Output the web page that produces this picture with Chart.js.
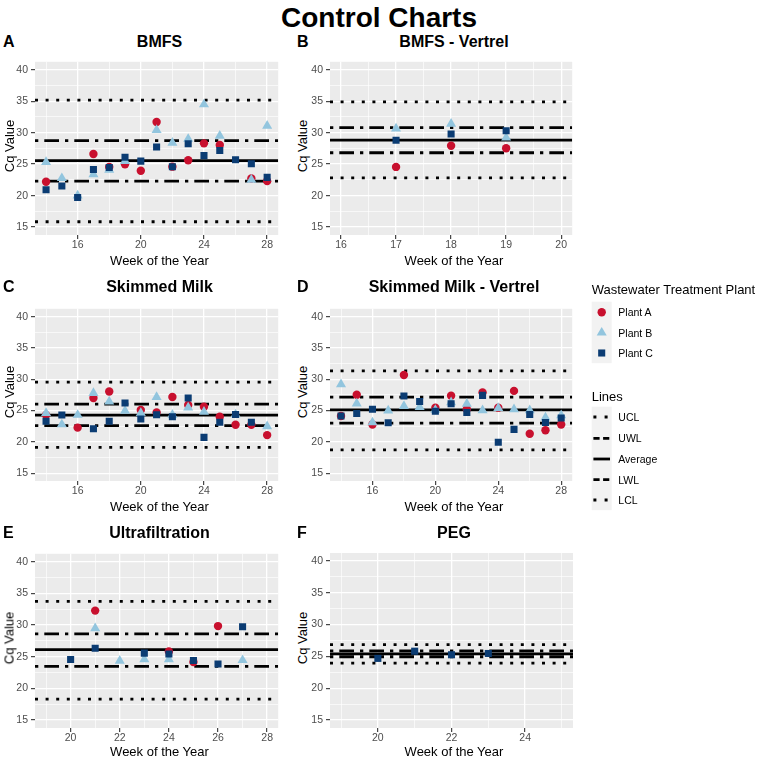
<!DOCTYPE html>
<html>
<head>
<meta charset="utf-8">
<script src="https://cdn.jsdelivr.net/npm/chart.js@4.4.1/dist/chart.umd.min.js"></script>
<style>
html,body{margin:0;padding:0;background:#fff;}
#wrap{position:relative;width:758px;height:761px;overflow:hidden;background:#fff;font-family:"Liberation Sans",Arial,Helvetica,sans-serif;color:#000;}
.t{position:absolute;white-space:nowrap;line-height:1;transform:translate(-50%,-50%);}
.l{position:absolute;white-space:nowrap;line-height:1;transform:translate(0,-50%);}
canvas{position:absolute;}
</style>
</head>
<body>
<div id="wrap"></div>
<script>
// ================= DATA =================
const plantNames = ['Plant A', 'Plant B', 'Plant C'];
const lineNames = ['UCL', 'UWL', 'Average', 'LWL', 'LCL'];
const yLimits = [15, 40];
const yTickLabels = [15, 20, 25, 30, 35, 40];

// A - BMFS
const bmfsWeeks = [14, 15, 16, 17, 18, 19, 20, 21, 22, 23, 24, 25, 26, 27, 28];
const bmfsA = [22.2, null, null, 26.6, 24.56, 24.97, 23.95, 31.7, 24.6, 25.63, 28.3, 28.04, null, 22.72, 22.3];
const bmfsB = [25.33, 22.77, 20.0, 23.38, 24.1, 25.5, null, 30.4, 28.4, 29.0, 34.48, 29.5, null, 22.5, 31.1];
const bmfsC = [20.93, 21.54, 19.7, 24.15, 24.46, 26.1, 25.48, 27.73, 24.6, 28.24, 26.35, 27.17, 25.69, 25.07, 22.9];
const bmfsLines = [35.15, 28.75, 25.55, 22.3, 15.85];
const bmfsXLimits = [14, 28];
const bmfsXTicks = [16, 20, 24, 28];

// B - BMFS - Vertrel
const bmfsVWeeks = [17, 18, 19];
const bmfsVA = [24.56, 27.93, 27.53];
const bmfsVB = [30.64, 31.4, 29.2];
const bmfsVC = [28.8, 29.78, 30.29];
const bmfsVLines = [34.89, 30.8, 28.8, 26.81, 22.82];
const bmfsVXLimits = [16, 20];
const bmfsVXTicks = [16, 17, 18, 19, 20];

// C - Skimmed Milk
const smWeeks = [14, 15, 16, 17, 18, 19, 20, 21, 22, 23, 24, 25, 26, 27, 28];
const smA = [24.28, null, 22.27, 27.0, 28.04, null, 25.1, 24.7, 27.16, 25.88, 25.62, 24.0, 22.73, 22.73, 21.08];
const smB = [24.6, 22.78, 24.3, 27.8, 26.44, 24.95, 24.6, 27.16, 24.33, 25.46, 24.8, null, 24.38, null, 22.47];
const smC = [23.3, 24.28, null, 22.1, 23.3, 26.2, 23.66, 24.33, 24.0, 27.0, 20.72, 23.14, 24.38, 23.14, null];
const smLines = [29.54, 26.03, 24.28, 22.58, 19.12];
const smXLimits = [14, 28];
const smXTicks = [16, 20, 24, 28];

// D - Skimmed Milk - Vertrel
const smVWeeks = [14, 15, 16, 17, 18, 19, 20, 21, 22, 23, 24, 25, 26, 27, 28];
const smVA = [24.12, 27.53, 22.78, null, 30.67, null, 25.46, 27.37, 25.2, 27.89, 25.46, 28.14, 21.3, 21.86, 22.78];
const smVB = [29.2, 26.1, 23.1, 25.0, 25.72, 25.57, 25.1, 26.3, 26.08, 25.05, 25.4, 25.2, 25.05, 23.87, 24.23];
const smVC = [24.12, 24.54, 25.2, 23.04, 27.32, 26.44, 24.9, 26.08, 24.69, 27.42, 19.95, 22.0, 24.38, 23.1, 23.8];
const smVLines = [31.34, 27.16, 25.1, 22.99, 18.71];
const smVXLimits = [14, 28];
const smVXTicks = [16, 20, 24, 28];

// E - Ultrafiltration
const ufWeeks = [20, 21, 22, 23, 24, 25, 26, 27];
const ufA = [null, 32.28, null, null, 25.82, 24.15, 29.84, null];
const ufB = [null, 29.48, 24.35, 24.6, 24.6, null, null, 24.45];
const ufC = [24.55, 26.33, null, 25.57, 25.42, 24.4, 23.84, 29.74];
const ufLines = [33.75, 28.62, 26.13, 23.49, 18.3];
const ufXLimits = [19, 28];
const ufXTicks = [20, 22, 24, 26, 28];

// F - PEG
const pegWeeks = [20, 21, 22, 23];
const pegA = [null, null, null, null];
const pegB = [null, null, null, null];
const pegC = [24.69, 25.82, 25.26, 25.46];
const pegLines = [26.84, 25.87, 25.41, 24.95, 23.93];
const pegXLimits = [19, 25];
const pegXTicks = [20, 22, 24];

// ================= STYLE / LAYOUT =================
const FONT = '"Liberation Sans", Arial, Helvetica, sans-serif';
const plantColors = ['#C8102E', '#92C5DE', '#0B3C73'];
const plantStyles = ['circle', 'triangle', 'rect'];
const plantRadius = [4.2, 5.8, 5.0];
const lineDashes = [[3, 7.6], [3.3, 6, 14.7, 6], [], [3.3, 6, 14.7, 6], [3, 7.6]];
const colGeom = [{left: 35, w: 249, letterX: 3, ytitleX: 8.5}, {left: 330, w: 248, letterX: 297, ytitleX: 302}];
const rowGeom = [{top: 56, h: 179, titleY: 41.7, xtitleY: 259.5},
                 {top: 303, h: 178, titleY: 286.7, xtitleY: 506},
                 {top: 548, h: 180, titleY: 533.3, xtitleY: 750.5}];
const Y_AXIS_W = 20, X_AXIS_H = 20;

const panels = [
  {letter: 'A', title: 'BMFS', weeks: bmfsWeeks, vals: [bmfsA, bmfsB, bmfsC], lines: bmfsLines, xLim: bmfsXLimits, xTicks: bmfsXTicks, col: 0, row: 0},
  {letter: 'B', title: 'BMFS - Vertrel', weeks: bmfsVWeeks, vals: [bmfsVA, bmfsVB, bmfsVC], lines: bmfsVLines, xLim: bmfsVXLimits, xTicks: bmfsVXTicks, col: 1, row: 0},
  {letter: 'C', title: 'Skimmed Milk', weeks: smWeeks, vals: [smA, smB, smC], lines: smLines, xLim: smXLimits, xTicks: smXTicks, col: 0, row: 1},
  {letter: 'D', title: 'Skimmed Milk - Vertrel', weeks: smVWeeks, vals: [smVA, smVB, smVC], lines: smVLines, xLim: smVXLimits, xTicks: smVXTicks, col: 1, row: 1},
  {letter: 'E', title: 'Ultrafiltration', weeks: ufWeeks, vals: [ufA, ufB, ufC], lines: ufLines, xLim: ufXLimits, xTicks: ufXTicks, col: 0, row: 2},
  {letter: 'F', title: 'PEG', weeks: pegWeeks, vals: [pegA, pegB, pegC], lines: pegLines, xLim: pegXLimits, xTicks: pegXTicks, col: 1, row: 2}
];

const wrap = document.getElementById('wrap');
function addText(txt, x, y, css, cls) {
  const d = document.createElement('div');
  d.className = cls || 't';
  d.textContent = txt;
  d.style.cssText = css + 'left:' + x + 'px;top:' + y + 'px;';
  wrap.appendChild(d);
  return d;
}

addText('Control Charts', 379, 17.5, 'font-size:28px;font-weight:bold;');

const panelBg = {
  id: 'panelBg',
  beforeDraw(chart) {
    const a = chart.chartArea, ctx = chart.ctx;
    ctx.save();
    ctx.fillStyle = '#EBEBEB';
    ctx.fillRect(a.left, a.top, a.right - a.left, a.bottom - a.top);
    ctx.restore();
  }
};

function expand(lim) {
  const r = lim[1] - lim[0];
  return [lim[0] - 0.05 * r, lim[1] + 0.05 * r];
}
function withMinor(majors, range) {
  const step = majors.length > 1 ? majors[1] - majors[0] : 1;
  const all = majors.slice();
  for (let v = majors[0] - step / 2; v <= range[1] + 1e-9; v += step) {
    if (v >= range[0] - 1e-9) all.push(v);
  }
  return all.filter(v => v >= range[0] - 1e-9 && v <= range[1] + 1e-9).sort((a, b) => a - b);
}
function isIn(arr, v) { return arr.some(m => Math.abs(m - v) < 1e-9); }

panels.forEach(p => {
  const cg = colGeom[p.col], rg = rowGeom[p.row];
  const cv = document.createElement('canvas');
  cv.width = Y_AXIS_W + cg.w;
  cv.height = rg.h + X_AXIS_H;
  cv.style.left = (cg.left - Y_AXIS_W) + 'px';
  cv.style.top = rg.top + 'px';
  cv.style.width = cv.width + 'px';
  cv.style.height = cv.height + 'px';
  wrap.appendChild(cv);

  const xr = expand(p.xLim), yr = expand(yLimits);
  const xAll = withMinor(p.xTicks, xr);
  const yAll = withMinor(yTickLabels, yr);

  const datasets = [];
  p.lines.forEach((v, i) => {
    datasets.push({
      label: lineNames[i],
      data: [{x: xr[0], y: v}, {x: xr[1], y: v}],
      showLine: true,
      borderColor: '#000000',
      borderWidth: 2.8,
      borderDash: lineDashes[i],
      borderCapStyle: 'butt',
      pointRadius: 0,
      fill: false,
      order: 10
    });
  });
  p.vals.forEach((vals, k) => {
    const pts = [];
    p.weeks.forEach((w, i) => { if (vals[i] !== null && vals[i] !== undefined) pts.push({x: w, y: vals[i]}); });
    datasets.push({
      label: plantNames[k],
      data: pts,
      showLine: false,
      pointStyle: plantStyles[k],
      pointRadius: plantRadius[k],
      pointBackgroundColor: plantColors[k],
      pointBorderColor: plantColors[k],
      pointBorderWidth: 0,
      order: 3 - k
    });
  });

  const tickFont = {family: FONT, size: 10.5};
  new Chart(cv, {
    type: 'scatter',
    data: {datasets},
    options: {
      responsive: false,
      animation: false,
      devicePixelRatio: 1,
      events: [],
      layout: {padding: 0},
      plugins: {legend: {display: false}, tooltip: {enabled: false}, title: {display: false}},
      scales: {
        x: {
          type: 'linear', position: 'bottom', min: xr[0], max: xr[1],
          afterBuildTicks: s => { s.ticks = xAll.map(v => ({value: v})); },
          afterFit: s => { s.height = X_AXIS_H; s.paddingLeft = 0; s.paddingRight = 0; },
          ticks: {
            autoSkip: false, maxRotation: 0, minRotation: 0, padding: 0,
            color: '#4D4D4D', font: tickFont,
            callback: v => isIn(p.xTicks, v) ? String(v) : ''
          },
          grid: {
            color: '#FFFFFF',
            lineWidth: c => (c.tick && isIn(p.xTicks, c.tick.value)) ? 1.3 : 0.65,
            drawTicks: true, tickLength: 4, tickWidth: 1.1,
            tickColor: c => (c.tick && isIn(p.xTicks, c.tick.value)) ? '#333333' : 'rgba(0,0,0,0)'
          },
          border: {display: false}
        },
        y: {
          type: 'linear', position: 'left', min: yr[0], max: yr[1],
          afterBuildTicks: s => { s.ticks = yAll.map(v => ({value: v})); },
          afterFit: s => { s.width = Y_AXIS_W; s.paddingTop = 0; s.paddingBottom = 0; },
          ticks: {
            autoSkip: false, padding: 3,
            color: '#4D4D4D', font: tickFont,
            callback: v => isIn(yTickLabels, v) ? String(v) : ''
          },
          grid: {
            color: '#FFFFFF',
            lineWidth: c => (c.tick && isIn(yTickLabels, c.tick.value)) ? 1.3 : 0.65,
            drawTicks: true, tickLength: 4, tickWidth: 1.1,
            tickColor: c => (c.tick && isIn(yTickLabels, c.tick.value)) ? '#333333' : 'rgba(0,0,0,0)'
          },
          border: {display: false}
        }
      }
    },
    plugins: [panelBg]
  });

  // panel texts
  const cx = cg.left + cg.w / 2;
  addText(p.letter, cg.letterX, rg.titleY, 'font-size:16px;font-weight:bold;', 'l');
  addText(p.title, cx, rg.titleY, 'font-size:16px;font-weight:bold;');
  addText('Week of the Year', cx, rg.xtitleY, 'font-size:13px;');
  const yt = addText('Cq Value', cg.ytitleX, rg.top + rg.h / 2, 'font-size:13px;');
  yt.style.transform = 'translate(-50%,-50%) rotate(-90deg)';
});

// ================= LEGEND =================
const NS = 'http://www.w3.org/2000/svg';
const svg = document.createElementNS(NS, 'svg');
svg.setAttribute('width', '758');
svg.setAttribute('height', '761');
svg.style.position = 'absolute';
svg.style.left = '0';
svg.style.top = '0';
svg.style.pointerEvents = 'none';
wrap.appendChild(svg);
function el(tag, attrs) {
  const e = document.createElementNS(NS, tag);
  for (const k in attrs) e.setAttribute(k, attrs[k]);
  svg.appendChild(e);
  return e;
}
const LX = 591.7, KW = 20, KCX = LX + KW / 2, LABX = 618.3;
addText('Wastewater Treatment Plant', LX, 289.3, 'font-size:13px;', 'l');
const plantRowsY = [312.3, 332.7, 353];
el('rect', {x: LX, y: 301.7, width: KW, height: 61.5, fill: '#F2F2F2'});
plantNames.forEach((n, k) => {
  const y = plantRowsY[k];
  if (plantStyles[k] === 'circle') el('circle', {cx: KCX, cy: y, r: plantRadius[k], fill: plantColors[k]});
  else if (plantStyles[k] === 'triangle') {
    const r = plantRadius[k];
    const pts = [[KCX, y - r], [KCX + r * Math.sin(2 * Math.PI / 3), y + r / 2], [KCX - r * Math.sin(2 * Math.PI / 3), y + r / 2]];
    el('polygon', {points: pts.map(q => q.join(',')).join(' '), fill: plantColors[k]});
  } else {
    const s = plantRadius[k] * Math.SQRT1_2;
    el('rect', {x: KCX - s, y: y - s, width: 2 * s, height: 2 * s, fill: plantColors[k]});
  }
  addText(n, LABX, y, 'font-size:10.5px;', 'l');
});
addText('Lines', LX, 395.7, 'font-size:13px;', 'l');
const lineRowsY = [417, 438.3, 459, 479.7, 500];
const legendDash = ['3 8.2', '6.2 3.5', '', '6.2 3.5', '3 8.2'];
el('rect', {x: LX, y: 406.7, width: KW, height: 103.5, fill: '#F2F2F2'});
lineNames.forEach((n, i) => {
  const y = lineRowsY[i];
  const attrs = {x1: LX + 1.7, x2: LX + 18.3, y1: y, y2: y, stroke: '#000', 'stroke-width': 2.8, 'stroke-linecap': 'butt'};
  if (legendDash[i]) attrs['stroke-dasharray'] = legendDash[i];
  el('line', attrs);
  addText(n, LABX, y, 'font-size:10.5px;', 'l');
});
</script>
</body>
</html>
